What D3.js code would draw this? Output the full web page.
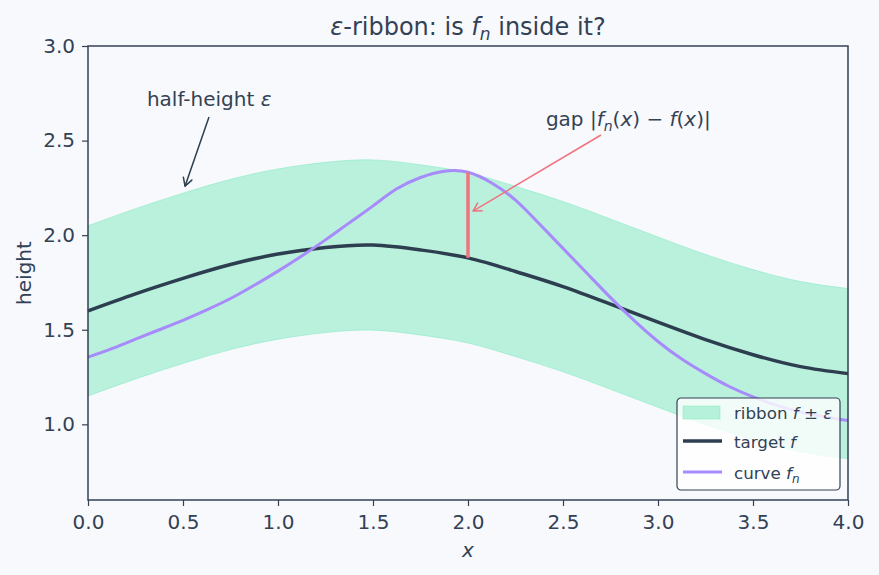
<!DOCTYPE html>
<html>
<head>
<meta charset="utf-8">
<script src="https://cdn.jsdelivr.net/npm/d3@7"></script>
<style>
  html, body { margin: 0; padding: 0; background: #f8f9fc; }
  svg { display: block; font-family: "DejaVu Sans", sans-serif; }
</style>
</head>
<body>
<script>
// Data
const fX = [0, 0.25, 0.5, 0.75, 1.0, 1.25, 1.5, 1.75, 2.0, 2.25, 2.5, 2.75, 3.0, 3.25, 3.5, 3.75, 4.0];
const targetF = [1.60, 1.69, 1.772, 1.845, 1.90, 1.935, 1.948, 1.922, 1.880, 1.808, 1.728, 1.635, 1.54, 1.448, 1.368, 1.305, 1.268];
const fnX = [0, 0.125, 0.25, 0.375, 0.5, 0.625, 0.75, 0.875, 1.0, 1.125, 1.25, 1.375, 1.5, 1.625, 1.75, 1.875,
  2.0, 2.125, 2.25, 2.375, 2.5, 2.625, 2.75, 2.875, 3.0, 3.125, 3.25, 3.375, 3.5, 3.625, 3.75, 3.875, 4.0];
const curveFn = [1.355, 1.40, 1.45, 1.50, 1.55, 1.605, 1.665, 1.735, 1.81, 1.89, 1.975, 2.065, 2.155, 2.245, 2.305, 2.338,
  2.333, 2.276, 2.185, 2.06, 1.93, 1.80, 1.67, 1.548, 1.438, 1.345, 1.268, 1.20, 1.145, 1.10, 1.065, 1.04, 1.02];
const epsilon = 0.45;
const gapX = 2.0;
const xTicks = [0, 0.5, 1, 1.5, 2, 2.5, 3, 3.5, 4];
const yTicks = [1.0, 1.5, 2.0, 2.5, 3.0];

const width = 879, height = 575;
const margin = { top: 46, right: 30, bottom: 75, left: 88 };

const colors = {
  bg: "#f8f9fc",
  ink: "#334155",
  target: "#2c3e50",
  curve: "#a78bfa",
  ribbon: "#6ee7b7",
  gap: "#f2727f"
};

const svg = d3.select("body").append("svg")
  .attr("width", width)
  .attr("height", height);

svg.append("rect").attr("width", width).attr("height", height).attr("fill", colors.bg);

const x = d3.scaleLinear().domain([0, 4]).range([margin.left, width - margin.right - 1]);
const y = d3.scaleLinear().domain([0.6, 3.0]).range([height - margin.bottom, margin.top]);

const fRows = fX.map((v, i) => ({ x: v, f: targetF[i] }));
const fnRows = fnX.map((v, i) => ({ x: v, y: curveFn[i] }));
const curve = d3.curveNatural;

const fAt = v => targetF[fX.indexOf(v)];
const fnAt = v => curveFn[fnX.indexOf(v)];

// Ribbon f ± eps
const area = d3.area()
  .x(d => x(d.x))
  .y0(d => y(d.f - epsilon))
  .y1(d => y(d.f + epsilon))
  .curve(curve);

svg.append("path")
  .datum(fRows)
  .attr("d", area)
  .attr("fill", colors.ribbon)
  .attr("fill-opacity", 0.45)
  .attr("stroke", colors.ribbon)
  .attr("stroke-opacity", 0.45)
  .attr("stroke-width", 1);

// Lines
const lineF = d3.line().x(d => x(d.x)).y(d => y(d.f)).curve(curve);
const lineFn = d3.line().x(d => x(d.x)).y(d => y(d.y)).curve(curve);

svg.append("path").datum(fRows).attr("d", lineF)
  .attr("fill", "none").attr("stroke", colors.target).attr("stroke-width", 3.5);

svg.append("path").datum(fnRows).attr("d", lineFn)
  .attr("fill", "none").attr("stroke", colors.curve).attr("stroke-width", 3);

// Gap segment at x = 2
svg.append("line")
  .attr("x1", x(gapX)).attr("x2", x(gapX))
  .attr("y1", y(fAt(gapX))).attr("y2", y(fnAt(gapX)))
  .attr("stroke", colors.gap).attr("stroke-width", 3.5);

// Axes
const gx = svg.append("g")
  .attr("transform", `translate(0,${height - margin.bottom})`)
  .call(d3.axisBottom(x).tickValues(xTicks).tickFormat(d3.format(".1f")).tickSize(6).tickPadding(9));
const gy = svg.append("g")
  .attr("transform", `translate(${margin.left},0)`)
  .call(d3.axisLeft(y).tickValues(yTicks).tickFormat(d3.format(".1f")).tickSize(6).tickPadding(7));

[gx, gy].forEach(g => {
  g.select(".domain").remove();
  g.selectAll(".tick line").attr("stroke", colors.ink).attr("stroke-width", 1.2);
  g.selectAll(".tick text").attr("fill", colors.ink).attr("font-size", 20).attr("font-family", "DejaVu Sans");
});

// Frame
svg.append("rect")
  .attr("x", margin.left).attr("y", margin.top)
  .attr("width", x(4) - margin.left).attr("height", y(0.6) - margin.top)
  .attr("fill", "none").attr("stroke", colors.ink).attr("stroke-width", 1.5);

// Title
const title = svg.append("text")
  .attr("x", (x(0) + x(4)) / 2).attr("y", 35)
  .attr("text-anchor", "middle").attr("font-size", 24).attr("fill", colors.ink);
title.append("tspan").attr("font-style", "italic").text("ε");
title.append("tspan").text("-ribbon: is ");
title.append("tspan").attr("font-style", "italic").text("f");
title.append("tspan").attr("font-style", "italic").attr("font-size", 17).attr("dy", 5).text("n");
title.append("tspan").attr("dy", -5).text(" inside it?");

// Axis labels
svg.append("text")
  .attr("x", (x(0) + x(4)) / 2).attr("y", 557)
  .attr("text-anchor", "middle").attr("font-size", 20).attr("font-style", "italic")
  .attr("fill", colors.ink).text("x");

svg.append("text")
  .attr("transform", `translate(31,${(y(0.6) + y(3.0)) / 2}) rotate(-90)`)
  .attr("text-anchor", "middle").attr("font-size", 20)
  .attr("fill", colors.ink).text("height");

// Arrow markers
const defs = svg.append("defs");
function marker(id, color) {
  defs.append("marker")
    .attr("id", id).attr("viewBox", "-10 -6 12 12")
    .attr("refX", 0).attr("refY", 0)
    .attr("markerWidth", 12).attr("markerHeight", 12)
    .attr("markerUnits", "userSpaceOnUse")
    .attr("orient", "auto")
    .append("path")
    .attr("d", "M-8,-4.5 L0,0 L-8,4.5")
    .attr("fill", "none").attr("stroke", color).attr("stroke-width", 1.5)
    .attr("stroke-linecap", "round").attr("stroke-linejoin", "round");
}
marker("arrowDark", colors.target);
marker("arrowGap", colors.gap);

// Annotation: half-height epsilon
const a1 = svg.append("text")
  .attr("x", x(0.31)).attr("y", y(2.685))
  .attr("font-size", 20).attr("fill", colors.ink);
a1.append("tspan").text("half-height ");
a1.append("tspan").attr("font-style", "italic").text("ε");

svg.append("line")
  .attr("x1", 209).attr("y1", 117)
  .attr("x2", x(0.5) + 2).attr("y2", y(fAt(0.5) + epsilon) - 7)
  .attr("stroke", colors.target).attr("stroke-width", 1.5)
  .attr("marker-end", "url(#arrowDark)");

// Annotation: gap
const a2 = svg.append("text")
  .attr("x", x(2.41)).attr("y", y(2.578))
  .attr("font-size", 20).attr("fill", colors.ink);
a2.append("tspan").text("gap |");
a2.append("tspan").attr("font-style", "italic").text("f");
a2.append("tspan").attr("font-style", "italic").attr("font-size", 14).attr("dy", 5).text("n");
a2.append("tspan").attr("dy", -5).text("(");
a2.append("tspan").attr("font-style", "italic").text("x");
a2.append("tspan").text(") − ");
a2.append("tspan").attr("font-style", "italic").text("f");
a2.append("tspan").text("(");
a2.append("tspan").attr("font-style", "italic").text("x");
a2.append("tspan").text(")|");

svg.append("line")
  .attr("x1", 601).attr("y1", 135)
  .attr("x2", x(gapX) + 5).attr("y2", y((fAt(gapX) + fnAt(gapX)) / 2) - 4)
  .attr("stroke", colors.gap).attr("stroke-width", 1.5)
  .attr("marker-end", "url(#arrowGap)");

// Legend
const lg = svg.append("g").attr("transform", "translate(677,398)");
lg.append("rect")
  .attr("width", 163).attr("height", 92).attr("rx", 4)
  .attr("fill", "#ffffff").attr("fill-opacity", 0.8)
  .attr("stroke", colors.ink).attr("stroke-width", 1.2);

lg.append("rect")
  .attr("x", 6).attr("y", 8).attr("width", 37).attr("height", 13)
  .attr("fill", colors.ribbon).attr("fill-opacity", 0.45)
  .attr("stroke", colors.ribbon).attr("stroke-opacity", 0.45);
lg.append("line").attr("x1", 6).attr("x2", 45).attr("y1", 43).attr("y2", 43)
  .attr("stroke", colors.target).attr("stroke-width", 3.5);
lg.append("line").attr("x1", 6).attr("x2", 45).attr("y1", 74).attr("y2", 74)
  .attr("stroke", colors.curve).attr("stroke-width", 3);

const lt1 = lg.append("text").attr("x", 57).attr("y", 21).attr("font-size", 16.7).attr("fill", colors.ink);
lt1.append("tspan").text("ribbon ");
lt1.append("tspan").attr("font-style", "italic").text("f");
lt1.append("tspan").text(" ± ");
lt1.append("tspan").attr("font-style", "italic").text("ε");

const lt2 = lg.append("text").attr("x", 57).attr("y", 50).attr("font-size", 16.7).attr("fill", colors.ink);
lt2.append("tspan").text("target ");
lt2.append("tspan").attr("font-style", "italic").text("f");

const lt3 = lg.append("text").attr("x", 57).attr("y", 81).attr("font-size", 16.7).attr("fill", colors.ink);
lt3.append("tspan").text("curve ");
lt3.append("tspan").attr("font-style", "italic").text("f");
lt3.append("tspan").attr("font-style", "italic").attr("font-size", 12).attr("dy", 4).text("n");
</script>
</body>
</html>
